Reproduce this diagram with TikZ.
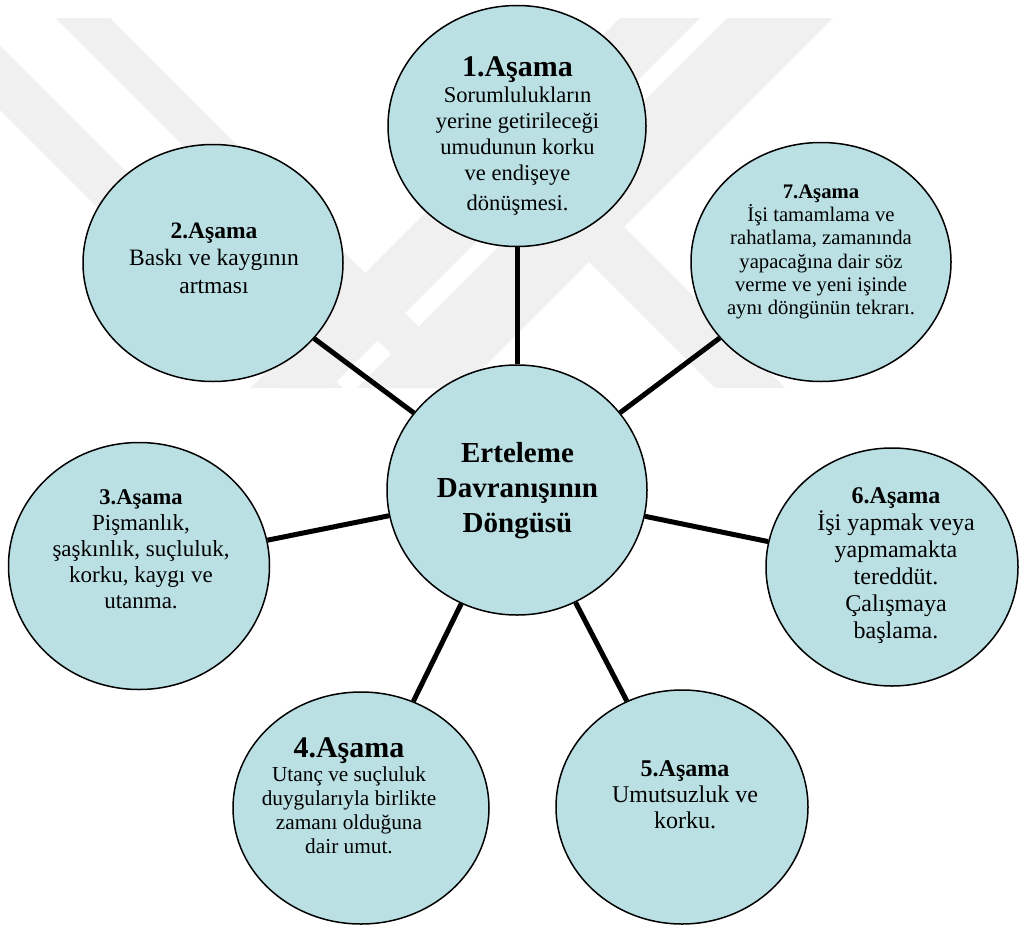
\documentclass[tikz,border=0pt]{standalone}
\usepackage{fontspec}
\setmainfont{Liberation Serif}
\usetikzlibrary{shapes.geometric}
\definecolor{stagefill}{HTML}{BAE0E4}
\definecolor{wmark}{HTML}{F0F0F0}

\begin{document}
\begin{tikzpicture}[x=1pt, y=-1pt,
    stage/.style={ellipse, draw, line width=1.5pt, fill=stagefill, inner sep=0pt},
    stagetext/.style={align=center, inner sep=0pt},
    spoke/.style={line width=5pt}]
  \useasboundingbox (0,0) rectangle (1020,926);

  % light logo in the back
  \fill[wmark] (55,18) -- (110,18) -- (480,388) -- (425,388) -- cycle;
  \fill[wmark] (0,45) -- (343,388) -- (278,388) -- (0,110) -- cycle;
  \fill[wmark] (620,18) -- (700,18) -- (330,388) -- (250,388) -- cycle;
  \fill[wmark] (727,18) -- (833,18) -- (463,388) -- (357,388) -- cycle;
  \fill[wmark] (577,180) -- (785,388) -- (715,388) -- (577,250) -- (439,388) -- (369,388) -- cycle;

  \node[stage, minimum width=258pt, minimum height=241pt] (s1) at (517,126) {};
  \node[stage, minimum width=260pt, minimum height=237pt] (s2) at (213,263) {};
  \node[stage, minimum width=261pt, minimum height=247pt] (s3) at (139,566) {};
  \node[stage, minimum width=256pt, minimum height=232pt] (s4) at (361,808) {};
  \node[stage, minimum width=252pt, minimum height=234pt] (s5) at (682,807) {};
  \node[stage, minimum width=252pt, minimum height=238pt] (s6) at (892,567) {};
  \node[stage, minimum width=260pt, minimum height=239pt] (s7) at (821,262) {};
  \node[stage, minimum width=260pt, minimum height=250pt] (core) at (517,490) {};

  \foreach \s in {s1,s2,s3,s4,s5,s6,s7}
    \draw[spoke] (core) -- (\s);

  \node[stagetext, font=\fontsize{22.5}{26}\selectfont] (l1) at (517.5,136)
    {{\fontsize{30}{30}\selectfont\bfseries 1.Aşama}\\ Sorumlulukların\\ yerine getirileceği\\
     umudunun korku\\ ve endişeye\\[4pt] dönüşmesi.};
  \node[stagetext, font=\fontsize{23.5}{27.5}\selectfont] (l2) at (214,258)
    {\textbf{2.Aşama}\\ Baskı ve kaygının\\ artması};
  \node[stagetext, font=\fontsize{23}{26}\selectfont] (l3) at (141,549)
    {{\fontsize{22.5}{26}\selectfont\bfseries 3.Aşama}\\ Pişmanlık,\\ şaşkınlık, suçluluk,\\
     korku, kaygı ve\\ utanma.};
  \node[stagetext, font=\fontsize{21.3}{24}\selectfont] (l4) at (349,796)
    {{\fontsize{30}{30}\selectfont\bfseries 4.Aşama}\\ Utanç ve suçluluk\\ duygularıyla birlikte\\
     zamanı olduğuna\\ dair umut.};
  \node[stagetext, font=\fontsize{24}{26}\selectfont] (l5) at (685,795)
    {\textbf{5.Aşama}\\ Umutsuzluk ve\\ korku.};
  \node[stagetext, font=\fontsize{24}{27}\selectfont] (l6) at (896,566)
    {\textbf{6.Aşama}\\ İşi yapmak veya\\ yapmamakta\\ tereddüt.\\ Çalışmaya\\ başlama.};
  \node[stagetext, font=\fontsize{20.7}{23.3}\selectfont] (l7) at (821,252)
    {\textbf{7.Aşama}\\ İşi tamamlama ve\\ rahatlama, zamanında\\ yapacağına dair söz\\
     verme ve yeni işinde\\ aynı döngünün tekrarı.};
  \node[stagetext, font=\fontsize{29}{35}\selectfont\bfseries] (lcore) at (517.5,491)
    {Erteleme\\ Davranışının\\ Döngüsü};
\end{tikzpicture}
\end{document}
